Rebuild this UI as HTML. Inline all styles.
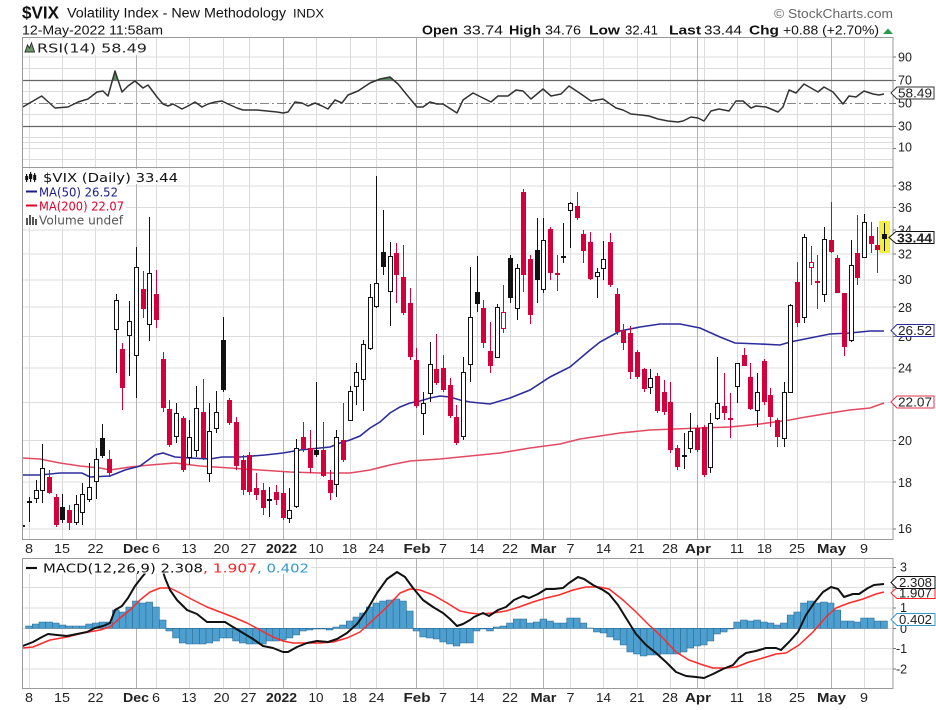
<!DOCTYPE html>
<html><head><meta charset="utf-8"><style>
html,body{margin:0;padding:0;background:#fff;}
body{width:936px;height:710px;overflow:hidden;}
svg{display:block;}
.ax{font-family:"Liberation Sans",Arial,sans-serif;font-size:12.5px;fill:#222;}
.axb{font-family:"Liberation Sans",Arial,sans-serif;font-size:12.5px;font-weight:bold;fill:#222;}
.lg{font-family:"DejaVu Sans","Liberation Sans",sans-serif;font-size:12px;}
.hd{font-family:"Liberation Sans",Arial,sans-serif;}
</style></head><body>
<svg width="936" height="710" viewBox="0 0 936 710" xmlns="http://www.w3.org/2000/svg">
<defs>
<clipPath id="cm"><rect x="22" y="167" width="871" height="373"/></clipPath>
<clipPath id="cr"><rect x="22" y="37" width="871" height="130"/></clipPath>
<clipPath id="cd"><rect x="22" y="558" width="871" height="130"/></clipPath>
</defs>
<rect width="936" height="710" fill="#fff"/>

<!-- Header -->
<text class="hd" x="22" y="18.5" font-size="17.5" font-weight="bold" fill="#111" textLength="37" lengthAdjust="spacingAndGlyphs">$VIX</text>
<text class="hd" x="67" y="17.5" font-size="13.5" fill="#111" textLength="219" lengthAdjust="spacingAndGlyphs">Volatility Index - New Methodology</text>
<text class="hd" x="293" y="17.5" font-size="11.5" fill="#111" textLength="31" lengthAdjust="spacingAndGlyphs">INDX</text>
<text class="hd" x="22" y="34.5" font-size="12.5" fill="#111" textLength="141" lengthAdjust="spacingAndGlyphs">12-May-2022 11:58am</text>
<text class="hd" x="774" y="18" font-size="13" fill="#666" textLength="119" lengthAdjust="spacingAndGlyphs">© StockCharts.com</text>
<g class="hd" font-size="12.5" fill="#111">
<text x="422" y="34.5" font-weight="bold" textLength="36" lengthAdjust="spacingAndGlyphs">Open</text>
<text x="463" y="34.5" textLength="40" lengthAdjust="spacingAndGlyphs">33.74</text>
<text x="509" y="34.5" font-weight="bold" textLength="32" lengthAdjust="spacingAndGlyphs">High</text>
<text x="545" y="34.5" textLength="36" lengthAdjust="spacingAndGlyphs">34.76</text>
<text x="589" y="34.5" font-weight="bold" textLength="31" lengthAdjust="spacingAndGlyphs">Low</text>
<text x="625" y="34.5" textLength="33" lengthAdjust="spacingAndGlyphs">32.41</text>
<text x="669" y="34.5" font-weight="bold" textLength="32" lengthAdjust="spacingAndGlyphs">Last</text>
<text x="704" y="34.5" textLength="38" lengthAdjust="spacingAndGlyphs">33.44</text>
<text x="749" y="34.5" font-weight="bold" textLength="30" lengthAdjust="spacingAndGlyphs">Chg</text>
<text x="783" y="34.5" textLength="96" lengthAdjust="spacingAndGlyphs">+0.88 (+2.70%)</text>
</g>
<polygon points="883,34 893,34 888,28.5" fill="#2a9a4a"/>

<!-- Gridlines -->
<g stroke="#dcdcdc" stroke-width="1" fill="none">
<path d="M22 57H893M22 68.5H893M22 91.5H893M22 114.5H893M22 137.5H893M22 142.5H893M22 148.5H893M22 159.5H893"/>
<path d="M22 186H893M22 207.5H893M22 230H893M22 254H893M22 280H893M22 307H893M22 336.5H893M22 368H893M22 402.5H893M22 440.5H893M22 482H893M22 529H893"/>
<path d="M22 567.5H893M22 587.5H893M22 608H893M22 628.5H893M22 648.5H893M22 669H893"/>
<path d="M29.5 37V540M62.5 37V540M95.5 37V540M156.5 37V540M189.5 37V540M223.5 37V540M249.5 37V540M316.5 37V540M350.5 37V540M376.5 37V540M443.5 37V540M477.5 37V540M510.5 37V540M570.5 37V540M603.5 37V540M637.5 37V540M670.5 37V540M704.5 37V540M737.5 37V540M764.5 37V540M797.5 37V540M864.5 37V540"/>
<path d="M29.5 558V688M62.5 558V688M95.5 558V688M156.5 558V688M189.5 558V688M223.5 558V688M249.5 558V688M316.5 558V688M350.5 558V688M376.5 558V688M443.5 558V688M477.5 558V688M510.5 558V688M570.5 558V688M603.5 558V688M637.5 558V688M670.5 558V688M704.5 558V688M737.5 558V688M764.5 558V688M797.5 558V688M864.5 558V688"/>
</g>
<g stroke="#b4b4b4" stroke-width="1" fill="none">
<path d="M136.5 37V540M283.5 37V540M416.5 37V540M543.5 37V540M697.5 37V540M831.5 37V540"/>
<path d="M136.5 558V688M283.5 558V688M416.5 558V688M543.5 558V688M697.5 558V688M831.5 558V688"/>
</g>

<!-- RSI panel -->
<g clip-path="url(#cr)">
<path d="M22 80.5H893M22 126.5H893" stroke="#666" stroke-width="1.2"/>
<path d="M22 103.5H893" stroke="#888" stroke-width="1" stroke-dasharray="9,3,2,3"/>
<polygon points="113,80 115,71 117.5,80" fill="#5b8c5b"/>
<polygon points="377,80 380,79 390,77 393,80" fill="#5b8c5b"/>
<polyline fill="none" stroke="#333" stroke-width="1.5" stroke-linejoin="round" points="22.7,107 41.7,96 55,108 68,107 78,102 88,99 97,92 103,91 108,96 115,71 122,92 128,86 135,81 143,88 148,85 157,97 163,104 168,106 173,104 182,109 188,106 195,102 202,107 208,104 215,102 222,101 228,104 237,108 243,110 257,110 267,111 277,112 283,113 288,112 295,102 302,103 308,106 315,103 322,106 328,109 335,100 342,103 348,95 358,91 370,83 380,79 390,77 398,84 407,95 417,107 423,107 430,102 437,104 443,104 457,113 463,100 473,93 481,97 491,102 498,96 508,96 516,90 523,91 531,99 543,89 551,96 561,94 569,86 581,94 591,101 603,99 616,108 623,110 631,114 641,115 649,116 658,119 668,121 678,122 683,121 691,117 698,118 704,121 711,111 719,109 729,111 736,101 743,101 751,108 756,106 766,107 771,109 778,112 783,107 789,90 796,93 804,84 818,92 824,87 833,92 843,104 849,96 856,97 864,91 873,94 879,95 884,94"/>
</g>
<rect x="23" y="40" width="126" height="15" fill="#fff"/>
<polygon points="25,52 27.5,45 29.5,48 31.5,43 34.5,52" fill="#6a9a6a" stroke="#333" stroke-width="1"/>
<text class="lg" x="37" y="52.3" font-size="12" fill="#222" textLength="110" lengthAdjust="spacingAndGlyphs">RSI(14) 58.49</text>

<!-- Main panel -->
<g clip-path="url(#cm)">
<polyline fill="none" stroke="#e24a62" stroke-width="1.6" points="22,458 40,459 60,463 80,466 100,468 110,470 130,467 150,465 175,463 200,466 230,468 260,470 290,472 320,473 350,473 370,470 390,465 410,461 440,459 470,456 500,453 530,448 560,444 580,439 600,436 620,433 650,430 700,428 730,427 760,424 790,420 800,418 830,413 850,410 870,408 884,403"/>
<polyline fill="none" stroke="#2c2c9c" stroke-width="1.6" points="22,475 40,475 60,473 82,473 90,477 110,476 125,470 140,466 155,455 163,453 175,457 190,458 210,459 222,457 240,457 265,455 283,453 300,450 320,448 330,447 340,443 350,440 360,436 370,428 380,422 390,413 400,407 410,403 420,401 430,398 440,396 450,397 460,400 470,402 490,404 510,398 530,390 550,377 570,367 590,350 600,342 620,331 640,327 660,324 680,324 700,328 720,337 735,343 760,344 780,345 790,342 810,338 830,334 850,333 870,331 884,331"/>
<rect x="879" y="221" width="11" height="32" fill="#f4ee3c"/>
<path fill="none" stroke="#111" stroke-width="1" d="M22.5 519V538M29.5 497V522M36.5 480V503M42.5 444V503M62.5 494V523M76.5 495V525M82.5 483V525M89.5 463V502M96.5 448V499M102.5 424V458M116.5 294V373M129.5 301V376M136.5 247V398M149.5 217V341M176.5 403V443M189.5 420V465M196.5 386V457M209.5 403V482M216.5 391V433M223.5 317V392M269.5 487V517M289.5 488V523M296.5 439V508M316.5 382V457M336.5 430V497M350.5 386V420M356.5 363V405M363.5 340V411M370.5 284V350M376.5 176V308M383.5 210V275M390.5 242V326M423.5 392V435M430.5 342V402M463.5 357V440M470.5 267V382M477.5 256V312M497.5 304V358M510.5 255V303M517.5 264V320M537.5 218V303M543.5 218V293M563.5 223V263M570.5 202V248M597.5 268V298M603.5 241V280M650.5 369V394M684.5 433V469M690.5 413V453M710.5 413V473M717.5 357V420M737.5 363V403M757.5 373V427M784.5 382V447M790.5 304V393M804.5 234V323M824.5 227V302M851.5 240V342M864.5 214V257M884.5 223V251"/>
<path fill="none" stroke="#d4003c" stroke-width="1" d="M49.5 470V494M56.5 494V527M69.5 505V530M109.5 450V477M122.5 343V410M143.5 271V318M156.5 270V328M163.5 352V412M169.5 400V447M183.5 416V472M203.5 379V460M229.5 398V425M236.5 417V470M243.5 455V495M249.5 452V495M256.5 473V500M263.5 483V515M276.5 485V505M283.5 472V520M303.5 422V452M310.5 430V473M323.5 422V477M330.5 470V500M343.5 403V462M396.5 243V303M403.5 245V315M410.5 288V360M416.5 348V408M436.5 334V385M443.5 355V392M450.5 378V418M456.5 405V445M483.5 300V348M490.5 322V373M503.5 285V333M523.5 189V292M530.5 255V324M550.5 227V280M557.5 255V291M577.5 192V220M583.5 230V263M590.5 232V280M610.5 233V287M617.5 288V335M623.5 324V350M630.5 326V379M637.5 350V379M644.5 368V392M657.5 373V413M664.5 380V415M670.5 382V453M677.5 445V470M697.5 425V452M704.5 425V477M724.5 373V420M730.5 393V438M744.5 348V366M750.5 363V410M764.5 359V405M770.5 388V427M777.5 418V447M797.5 262V327M811.5 246V285M817.5 255V309M831.5 202V253M837.5 255V293M844.5 293V356M857.5 215V285M871.5 222V253M877.5 227V273"/>
<path fill="#d4003c" d="M47 477h5v16h-5zM54 497h5v28h-5zM67 510h5v13h-5zM107 459h5v14h-5zM120 349h5v39h-5zM141 289h5v20h-5zM154 294h5v26h-5zM161 359h5v49h-5zM167 409h5v36h-5zM181 418h5v52h-5zM201 412h5v46h-5zM227 400h5v23h-5zM234 422h5v44h-5zM241 460h5v30h-5zM247 455h5v37h-5zM254 488h5v7h-5zM261 490h5v18h-5zM274 492h5v8h-5zM281 493h5v25h-5zM301 437h5v12h-5zM308 448h5v20h-5zM321 450h5v26h-5zM328 480h5v13h-5zM341 440h5v20h-5zM394 253h5v22h-5zM401 277h5v36h-5zM408 303h5v54h-5zM414 360h5v46h-5zM434 369h5v14h-5zM441 368h5v22h-5zM448 385h5v31h-5zM454 417h5v26h-5zM481 308h5v35h-5zM488 351h5v15h-5zM521 192h5v83h-5zM528 259h5v56h-5zM548 229h5v44h-5zM575 206h5v12h-5zM581 234h5v17h-5zM588 242h5v37h-5zM608 242h5v43h-5zM615 294h5v38h-5zM621 330h5v13h-5zM628 333h5v39h-5zM635 352h5v25h-5zM642 369h5v20h-5zM655 376h5v35h-5zM662 392h5v20h-5zM668 402h5v48h-5zM675 448h5v19h-5zM695 428h5v22h-5zM702 427h5v48h-5zM722 406h5v7h-5zM742 355h5v11h-5zM748 377h5v32h-5zM762 361h5v41h-5zM768 395h5v22h-5zM775 420h5v17h-5zM795 282h5v41h-5zM829 240h5v12h-5zM835 258h5v35h-5zM842 293h5v54h-5zM855 253h5v25h-5zM869 236h5v8h-5zM875 245h5v5h-5zM555 273h5v2h-5zM728 418h5v2h-5zM815 281h5v2h-5z"/>
<path fill="#111" d="M60 507h5v13h-5zM100 438h5v18h-5zM221 340h5v50h-5zM314 450h5v5h-5zM381 252h5v15h-5zM475 292h5v12h-5zM508 258h5v40h-5zM535 250h5v30h-5zM882 234h5v5h-5zM20 525h5v2h-5zM27 501h5v2h-5zM267 499h5v2h-5zM561 256h5v2h-5zM682 455h5v2h-5z"/>
<path fill="#fff" stroke="#111" stroke-width="1" d="M34.5 490.5h4v8h-4zM40.5 468.5h4v22h-4zM74.5 504.5h4v18h-4zM80.5 494.5h4v18h-4zM87.5 487.5h4v12h-4zM94.5 459.5h4v22h-4zM114.5 300.5h4v29h-4zM127.5 321.5h4v14h-4zM134.5 267.5h4v88h-4zM147.5 273.5h4v51h-4zM174.5 413.5h4v23h-4zM187.5 437.5h4v20h-4zM194.5 408.5h4v42h-4zM207.5 431.5h4v42h-4zM214.5 412.5h4v16h-4zM287.5 510.5h4v8h-4zM294.5 448.5h4v58h-4zM334.5 437.5h4v47h-4zM348.5 391.5h4v29h-4zM354.5 372.5h4v14h-4zM361.5 344.5h4v35h-4zM368.5 297.5h4v51h-4zM374.5 283.5h4v23h-4zM388.5 256.5h4v35h-4zM421.5 403.5h4v10h-4zM428.5 364.5h4v29h-4zM461.5 372.5h4v64h-4zM468.5 317.5h4v47h-4zM495.5 307.5h4v50h-4zM515.5 268.5h4v40h-4zM541.5 240.5h4v49h-4zM568.5 203.5h4v7h-4zM595.5 272.5h4v4h-4zM601.5 259.5h4v9h-4zM648.5 378.5h4v9h-4zM688.5 431.5h4v17h-4zM708.5 423.5h4v44h-4zM715.5 403.5h4v15h-4zM735.5 363.5h4v23h-4zM755.5 392.5h4v18h-4zM782.5 392.5h4v46h-4zM788.5 305.5h4v87h-4zM802.5 237.5h4v80h-4zM822.5 239.5h4v55h-4zM849.5 265.5h4v75h-4zM862.5 222.5h4v35h-4z"/>
<path fill="#fff" stroke="#d4003c" stroke-width="1" d="M501.5 312.5h4v16h-4zM809.5 262.5h4v5h-4z"/>
</g>
<!-- Main legend -->
<rect x="23" y="169" width="157" height="15" fill="#fff"/>
<rect x="23" y="184" width="103" height="43" fill="#fff"/>
<g fill="#111">
<rect x="26" y="174" width="1.2" height="8"/><rect x="25.2" y="176" width="3" height="4"/>
<rect x="30" y="172" width="1.2" height="10"/><rect x="29" y="174" width="3.2" height="5"/>
<rect x="34" y="173" width="1.2" height="9"/><rect x="33.2" y="175" width="3" height="5"/>
</g>
<text class="lg" x="43" y="182" font-size="12.3" fill="#111" textLength="135" lengthAdjust="spacingAndGlyphs">$VIX (Daily) 33.44</text>
<path d="M26 191.5H37" stroke="#1c1c8c" stroke-width="2"/>
<text class="lg" x="39" y="196.5" font-size="11.5" fill="#1c1c8c" textLength="79" lengthAdjust="spacingAndGlyphs">MA(50) 26.52</text>
<path d="M26 205.5H37" stroke="#e0002a" stroke-width="2"/>
<text class="lg" x="39" y="210.5" font-size="11.5" fill="#e0002a" textLength="85" lengthAdjust="spacingAndGlyphs">MA(200) 22.07</text>
<g fill="#555"><rect x="26" y="218" width="2" height="7"/><rect x="29" y="215" width="2" height="10"/><rect x="32" y="217" width="2" height="8"/><rect x="35" y="219" width="2" height="6"/></g>
<text class="lg" x="39" y="224.5" font-size="11.5" fill="#555" textLength="84" lengthAdjust="spacingAndGlyphs">Volume undef</text>

<!-- MACD panel -->
<g clip-path="url(#cd)">
<path fill="#4d9fd0" stroke="#2a6890" stroke-width="0.6" d="M25.7 628.3V626h6.7V628.3zM32.3 628.3V624h6.7V628.3zM39 628.3V622h6.7V628.3zM45.7 628.3V622h6.7V628.3zM52.4 628.3V623h6.7V628.3zM59.1 628.3V625h6.7V628.3zM65.7 628.3V626h6.7V628.3zM72.4 628.3V626h6.7V628.3zM79.1 628.3V626h6.7V628.3zM85.8 628.3V624h6.7V628.3zM92.5 628.3V623h6.7V628.3zM99.1 628.3V622h6.7V628.3zM105.8 628.3V622h6.7V628.3zM112.5 628.3V610h6.7V628.3zM119.2 628.3V612h6.7V628.3zM125.9 628.3V607h6.7V628.3zM132.5 628.3V601h6.7V628.3zM139.2 628.3V603h6.7V628.3zM145.9 628.3V602h6.7V628.3zM152.6 628.3V607h6.7V628.3zM159.3 628.3V620h6.7V628.3zM165.9 628.3V631h6.7V628.3zM172.6 628.3V638h6.7V628.3zM179.3 628.3V643h6.7V628.3zM186 628.3V644h6.7V628.3zM192.7 628.3V644h6.7V628.3zM199.3 628.3V644h6.7V628.3zM206 628.3V643h6.7V628.3zM212.7 628.3V641h6.7V628.3zM219.4 628.3V638h6.7V628.3zM226.1 628.3V638h6.7V628.3zM232.7 628.3V641h6.7V628.3zM239.4 628.3V643h6.7V628.3zM246.1 628.3V644h6.7V628.3zM252.8 628.3V644h6.7V628.3zM259.5 628.3V644h6.7V628.3zM266.1 628.3V641h6.7V628.3zM272.8 628.3V641h6.7V628.3zM279.5 628.3V640h6.7V628.3zM286.2 628.3V638h6.7V628.3zM292.9 628.3V635h6.7V628.3zM299.5 628.3V631h6.7V628.3zM306.2 628.3V630h6.7V628.3zM312.9 628.3V629h6.7V628.3zM319.6 628.3V629h6.7V628.3zM326.3 628.3V630h6.7V628.3zM332.9 628.3V627h6.7V628.3zM339.6 628.3V625h6.7V628.3zM346.3 628.3V621h6.7V628.3zM353 628.3V617h6.7V628.3zM359.7 628.3V613h6.7V628.3zM366.3 628.3V607h6.7V628.3zM373 628.3V603h6.7V628.3zM379.7 628.3V601h6.7V628.3zM386.4 628.3V600h6.7V628.3zM393.1 628.3V599h6.7V628.3zM399.7 628.3V601h6.7V628.3zM406.4 628.3V611h6.7V628.3zM413.1 628.3V631h6.7V628.3zM419.8 628.3V637h6.7V628.3zM426.5 628.3V638h6.7V628.3zM433.2 628.3V639h6.7V628.3zM439.8 628.3V642h6.7V628.3zM446.5 628.3V644h6.7V628.3zM453.2 628.3V646h6.7V628.3zM459.9 628.3V643h6.7V628.3zM466.6 628.3V643h6.7V628.3zM473.2 628.3V631h6.7V628.3zM479.9 628.3V629h6.7V628.3zM486.6 628.3V631h6.7V628.3zM493.3 628.3V627h6.7V628.3zM500 628.3V626h6.7V628.3zM506.6 628.3V623h6.7V628.3zM513.3 628.3V619h6.7V628.3zM520 628.3V619h6.7V628.3zM526.7 628.3V623h6.7V628.3zM533.4 628.3V622h6.7V628.3zM540 628.3V619h6.7V628.3zM546.7 628.3V621h6.7V628.3zM553.4 628.3V623h6.7V628.3zM560.1 628.3V623h6.7V628.3zM566.8 628.3V618h6.7V628.3zM573.4 628.3V618h6.7V628.3zM580.1 628.3V623h6.7V628.3zM586.8 628.3V628h6.7V628.3zM593.5 628.3V632h6.7V628.3zM600.2 628.3V633h6.7V628.3zM606.8 628.3V637h6.7V628.3zM613.5 628.3V640h6.7V628.3zM620.2 628.3V645h6.7V628.3zM626.9 628.3V652h6.7V628.3zM633.6 628.3V654h6.7V628.3zM640.2 628.3V656h6.7V628.3zM646.9 628.3V655h6.7V628.3zM653.6 628.3V655h6.7V628.3zM660.3 628.3V654h6.7V628.3zM667 628.3V654h6.7V628.3zM673.7 628.3V654h6.7V628.3zM680.3 628.3V652h6.7V628.3zM687 628.3V648h6.7V628.3zM693.7 628.3V646h6.7V628.3zM700.4 628.3V645h6.7V628.3zM707.1 628.3V641h6.7V628.3zM713.7 628.3V634h6.7V628.3zM720.4 628.3V632h6.7V628.3zM727.1 628.3V629h6.7V628.3zM733.8 628.3V622h6.7V628.3zM740.5 628.3V620h6.7V628.3zM747.1 628.3V621h6.7V628.3zM753.8 628.3V620h6.7V628.3zM760.5 628.3V622h6.7V628.3zM767.2 628.3V623h6.7V628.3zM773.9 628.3V625h6.7V628.3zM780.5 628.3V623h6.7V628.3zM787.2 628.3V615h6.7V628.3zM793.9 628.3V612h6.7V628.3zM800.6 628.3V603h6.7V628.3zM807.3 628.3V601h6.7V628.3zM813.9 628.3V603h6.7V628.3zM820.6 628.3V602h6.7V628.3zM827.3 628.3V603h6.7V628.3zM834 628.3V610h6.7V628.3zM840.7 628.3V621h6.7V628.3zM847.3 628.3V621h6.7V628.3zM854 628.3V622h6.7V628.3zM860.7 628.3V618h6.7V628.3zM867.4 628.3V618h6.7V628.3zM874.1 628.3V621h6.7V628.3zM880.7 628.3V621h6.7V628.3z"/>
<polyline fill="none" stroke="#ff2a2a" stroke-width="1.5" stroke-linejoin="round" points="22.7,648 33,647 50,640 67,637 83,633 100,630 110,627 120,618 130,610 140,600 150,592 160,588 170,588 180,593 193,600 207,607 220,612 233,617 247,623 260,630 273,637 283,641 293,643 307,643 320,643 333,642 347,638 360,632 373,620 387,607 400,593 410,589 420,590 433,595 447,603 460,611 470,613 479,614 493,613 506,611 519,607 533,602 546,598 559,595 573,590 586,587 599,587 609,589 623,600 636,612 649,625 663,638 676,652 689,660 703,665 713,668 726,668 736,667 749,662 763,658 776,654 786,653 799,645 813,632 826,617 836,608 849,603 863,599 876,594 884,592"/>
<polyline fill="none" stroke="#111" stroke-width="2" stroke-linejoin="round" points="22.7,646 33,642 42,637 48,634 57,635 67,636 77,634 87,632 95,628 103,626 110,623 115,610 122,606 128,598 135,586 142,577 147,571 152,564 157,561 161,565 165,578 170,590 177,600 187,610 197,614 207,622 217,622 225,622 233,627 243,633 253,639 263,646 273,648 283,652 288,652 297,647 307,643 317,641 328,642 337,639 347,633 357,624 367,610 377,593 387,579 397,572 405,577 413,588 423,600 433,607 443,613 450,619 457,626 463,624 470,620 474,617 483,613 489,616 498,610 506,607 514,600 523,596 529,598 538,594 546,589 554,589 563,588 569,583 578,577 584,579 593,585 603,590 609,594 618,605 626,618 636,634 646,645 656,653 666,662 676,672 686,676 696,677 704,678 713,674 723,669 733,665 739,658 746,653 756,651 766,648 776,648 781,650 789,642 798,632 806,615 814,603 823,592 831,587 838,589 844,597 853,594 859,594 868,588 874,585 884,584"/>
</g>
<rect x="23" y="559" width="288" height="14.5" fill="#fff"/>
<path d="M26 568H37" stroke="#111" stroke-width="2.2"/>
<text class="lg" x="43" y="572.5" font-size="12.3" fill="#111" textLength="160" lengthAdjust="spacingAndGlyphs">MACD(12,26,9) 2.308</text>
<text class="lg" x="203" y="572.5" font-size="12.3" fill="#ff2020" textLength="54" lengthAdjust="spacingAndGlyphs">, 1.907</text>
<text class="lg" x="257" y="572.5" font-size="12.3" fill="#3399cc" textLength="52" lengthAdjust="spacingAndGlyphs">, 0.402</text>

<!-- Frames -->
<g fill="none" stroke="#9a9a9a" stroke-width="1">
<rect x="22.5" y="37.5" width="870.5" height="502"/>
<path d="M22 167.5H893"/>
<rect x="22.5" y="558.5" width="870.5" height="130"/>
</g>
<!-- right-axis ticks -->
<path stroke="#777" stroke-width="1" d="M893 57H896M893 80.5H896M893 103.5H896M893 126.5H896M893 148.5H896M893 186H896M893 207.5H896M893 230H896M893 254H896M893 280H896M893 307H896M893 336.5H896M893 368H896M893 402.5H896M893 440.5H896M893 482H896M893 529H896M893 567.5H896M893 587.5H896M893 608H896M893 628.5H896M893 648.5H896M893 669H896"/>

<!-- Y labels -->
<g class="ax">
<text x="898" y="61.5">90</text><text x="898" y="84.5">70</text><text x="898" y="107.5">50</text><text x="898" y="130.5">30</text><text x="898" y="151.5">10</text>
<text x="898" y="190.5">38</text><text x="898" y="212">36</text><text x="898" y="234.5">34</text><text x="898" y="258.5">32</text><text x="898" y="284">30</text><text x="898" y="312">28</text><text x="898" y="341">26</text><text x="898" y="372.5">24</text><text x="898" y="407">22</text><text x="898" y="445">20</text><text x="898" y="487">18</text><text x="898" y="533">16</text>
<text x="900" y="571.5">3</text><text x="900" y="592">2</text><text x="900" y="612">1</text><text x="900" y="633">0</text><text x="896" y="653">-1</text><text x="896" y="673.5">-2</text>
</g>

<!-- value boxes -->
<path d="M891 93L897 87H934V99H897Z" fill="#fff" stroke="#333" stroke-width="1"/>
<text class="ax" x="898" y="97.5" textLength="34" lengthAdjust="spacingAndGlyphs">58.49</text>
<path d="M889 237.5L896 231.5H934V243.5H896Z" fill="#fff" stroke="#111" stroke-width="1"/>
<text class="axb" x="897" y="242.3" textLength="35" lengthAdjust="spacingAndGlyphs" fill="#111">33.44</text>
<path d="M891 330.5L897 324.5H934V336.5H897Z" fill="#fff" stroke="#2c2c9c" stroke-width="1"/>
<text class="ax" x="898" y="335" textLength="34" lengthAdjust="spacingAndGlyphs" fill="#1c1c7c">26.52</text>
<path d="M891 402L897 396H934V408H897Z" fill="#fff" stroke="#e0304a" stroke-width="1"/>
<text class="ax" x="898" y="406.5" textLength="34" lengthAdjust="spacingAndGlyphs">22.07</text>
<path d="M891 593L897 587.5H935V598.5H897Z" fill="#fff" stroke="#ff2020" stroke-width="1"/>
<text class="ax" x="899" y="597.5" textLength="33" lengthAdjust="spacingAndGlyphs">1.907</text>
<path d="M891 582.5L897 576.5H935V588.5H897Z" fill="#fff" stroke="#111" stroke-width="1"/>
<text class="ax" x="899" y="587" textLength="33" lengthAdjust="spacingAndGlyphs">2.308</text>
<path d="M891 619.5L897 613.5H935V625.5H897Z" fill="#fff" stroke="#3399cc" stroke-width="1"/>
<text class="ax" x="899" y="624" textLength="33" lengthAdjust="spacingAndGlyphs">0.402</text>

<!-- X axis labels (top) -->
<g text-anchor="middle">
<text class="ax" x="29" y="553" textLength="8" lengthAdjust="spacingAndGlyphs">8</text>
<text class="ax" x="62" y="553" textLength="16" lengthAdjust="spacingAndGlyphs">15</text>
<text class="ax" x="95.5" y="553" textLength="16" lengthAdjust="spacingAndGlyphs">22</text>
<text class="axb" x="136" y="553" textLength="26" lengthAdjust="spacingAndGlyphs">Dec</text>
<text class="ax" x="156" y="553" textLength="8" lengthAdjust="spacingAndGlyphs">6</text>
<text class="ax" x="189" y="553" textLength="15" lengthAdjust="spacingAndGlyphs">13</text>
<text class="ax" x="221.5" y="553" textLength="16" lengthAdjust="spacingAndGlyphs">20</text>
<text class="ax" x="248.5" y="553" textLength="16" lengthAdjust="spacingAndGlyphs">27</text>
<text class="axb" x="281.5" y="553" textLength="31" lengthAdjust="spacingAndGlyphs">2022</text>
<text class="ax" x="316" y="553" textLength="15" lengthAdjust="spacingAndGlyphs">10</text>
<text class="ax" x="349.5" y="553" textLength="15" lengthAdjust="spacingAndGlyphs">18</text>
<text class="ax" x="376.5" y="553" textLength="16" lengthAdjust="spacingAndGlyphs">24</text>
<text class="axb" x="417" y="553" textLength="27" lengthAdjust="spacingAndGlyphs">Feb</text>
<text class="ax" x="443" y="553" textLength="8" lengthAdjust="spacingAndGlyphs">7</text>
<text class="ax" x="477" y="553" textLength="15" lengthAdjust="spacingAndGlyphs">14</text>
<text class="ax" x="510" y="553" textLength="16" lengthAdjust="spacingAndGlyphs">22</text>
<text class="axb" x="543.5" y="553" textLength="26" lengthAdjust="spacingAndGlyphs">Mar</text>
<text class="ax" x="570.5" y="553" textLength="8" lengthAdjust="spacingAndGlyphs">7</text>
<text class="ax" x="603.5" y="553" textLength="15" lengthAdjust="spacingAndGlyphs">14</text>
<text class="ax" x="637" y="553" textLength="15" lengthAdjust="spacingAndGlyphs">21</text>
<text class="ax" x="670" y="553" textLength="16" lengthAdjust="spacingAndGlyphs">28</text>
<text class="axb" x="698" y="553" textLength="26" lengthAdjust="spacingAndGlyphs">Apr</text>
<text class="ax" x="737" y="553" textLength="14" lengthAdjust="spacingAndGlyphs">11</text>
<text class="ax" x="764.5" y="553" textLength="15" lengthAdjust="spacingAndGlyphs">18</text>
<text class="ax" x="797" y="553" textLength="16" lengthAdjust="spacingAndGlyphs">25</text>
<text class="axb" x="831.5" y="553" textLength="29" lengthAdjust="spacingAndGlyphs">May</text>
<text class="ax" x="864" y="553" textLength="8" lengthAdjust="spacingAndGlyphs">9</text>
</g>
<!-- X axis labels (bottom) -->
<g text-anchor="middle">
<text class="ax" x="29" y="702" textLength="8" lengthAdjust="spacingAndGlyphs">8</text>
<text class="ax" x="62" y="702" textLength="16" lengthAdjust="spacingAndGlyphs">15</text>
<text class="ax" x="95.5" y="702" textLength="16" lengthAdjust="spacingAndGlyphs">22</text>
<text class="axb" x="136" y="702" textLength="26" lengthAdjust="spacingAndGlyphs">Dec</text>
<text class="ax" x="156" y="702" textLength="8" lengthAdjust="spacingAndGlyphs">6</text>
<text class="ax" x="189" y="702" textLength="15" lengthAdjust="spacingAndGlyphs">13</text>
<text class="ax" x="221.5" y="702" textLength="16" lengthAdjust="spacingAndGlyphs">20</text>
<text class="ax" x="248.5" y="702" textLength="16" lengthAdjust="spacingAndGlyphs">27</text>
<text class="axb" x="281.5" y="702" textLength="31" lengthAdjust="spacingAndGlyphs">2022</text>
<text class="ax" x="316" y="702" textLength="15" lengthAdjust="spacingAndGlyphs">10</text>
<text class="ax" x="349.5" y="702" textLength="15" lengthAdjust="spacingAndGlyphs">18</text>
<text class="ax" x="376.5" y="702" textLength="16" lengthAdjust="spacingAndGlyphs">24</text>
<text class="axb" x="417" y="702" textLength="27" lengthAdjust="spacingAndGlyphs">Feb</text>
<text class="ax" x="443" y="702" textLength="8" lengthAdjust="spacingAndGlyphs">7</text>
<text class="ax" x="477" y="702" textLength="15" lengthAdjust="spacingAndGlyphs">14</text>
<text class="ax" x="510" y="702" textLength="16" lengthAdjust="spacingAndGlyphs">22</text>
<text class="axb" x="543.5" y="702" textLength="26" lengthAdjust="spacingAndGlyphs">Mar</text>
<text class="ax" x="570.5" y="702" textLength="8" lengthAdjust="spacingAndGlyphs">7</text>
<text class="ax" x="603.5" y="702" textLength="15" lengthAdjust="spacingAndGlyphs">14</text>
<text class="ax" x="637" y="702" textLength="15" lengthAdjust="spacingAndGlyphs">21</text>
<text class="ax" x="670" y="702" textLength="16" lengthAdjust="spacingAndGlyphs">28</text>
<text class="axb" x="698" y="702" textLength="26" lengthAdjust="spacingAndGlyphs">Apr</text>
<text class="ax" x="737" y="702" textLength="14" lengthAdjust="spacingAndGlyphs">11</text>
<text class="ax" x="764.5" y="702" textLength="15" lengthAdjust="spacingAndGlyphs">18</text>
<text class="ax" x="797" y="702" textLength="16" lengthAdjust="spacingAndGlyphs">25</text>
<text class="axb" x="831.5" y="702" textLength="29" lengthAdjust="spacingAndGlyphs">May</text>
<text class="ax" x="864" y="702" textLength="8" lengthAdjust="spacingAndGlyphs">9</text>
</g>
</svg>
</body></html>
